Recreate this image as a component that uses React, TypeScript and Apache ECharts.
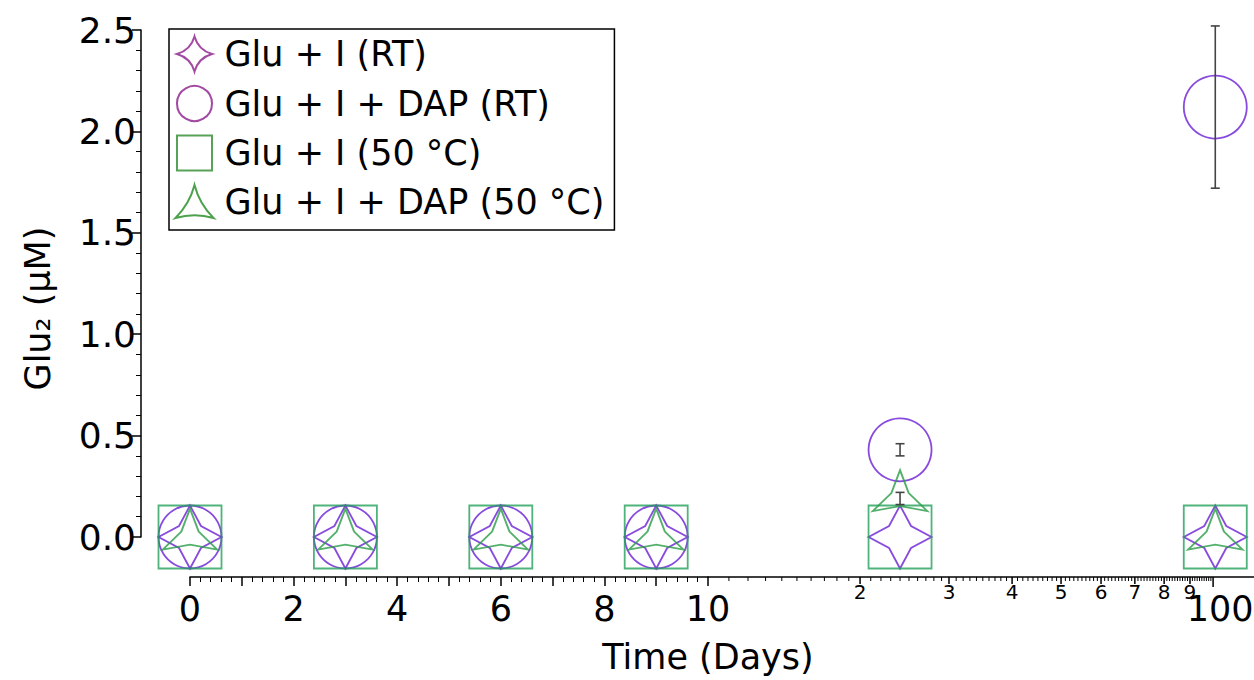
import { useEffect, useRef } from "react";
import * as echarts from "echarts";

const FONT = "DejaVu Sans";

// ---- data ----
const days = [0, 3, 6, 9, 24, 101];
const gluRT = [0, 0, 0, 0, 0, 0];
const gluDapRT = [0, 0, 0, 0, 0.43, 2.12];
const gluDapRTErr = [0, 0, 0, 0, 0.03, 0.4];
const glu50 = [0, 0, 0, 0, 0, 0];
const gluDap50 = [0, 0, 0, 0, 0.19, 0];
const gluDap50Err = [0, 0, 0, 0, 0.03, 0];
const seriesNames = [
  "Glu + I (RT)",
  "Glu + I + DAP (RT)",
  "Glu + I (50 °C)",
  "Glu + I + DAP (50 °C)",
];
// axis break: linear 0..10, log 10..
const BREAK = 10;
const LOG_MAX = 120.5;
const logLabelTicks = [20, 30, 40, 50, 60, 70, 80, 90];
const logLabelTexts = ["2", "3", "4", "5", "6", "7", "8", "9"];
const logEndTick = 100;
const logEndText = "100";

const AX_OFF = 40;
const dataColors = ["#6a1ed6", "#6a1ed6", "#24a05a", "#2a9c48"];
const legendColors = ["#8b1c8b", "#8b1c8b", "#2e8b2e", "#1f8a1f"];

const star4 = "path://M0,-31.5 L11,-11 L31.5,0 L11,11 L0,31.5 L-11,11 L-31.5,0 L-11,-11 Z";
const star3 = "path://M0,-31.5 L8.66,-5 L27.28,15.75 L0,10 L-27.28,15.75 L-8.66,-5 Z";
const square = "path://M-1,-1 L1,-1 L1,1 L-1,1 Z";
const star4Legend = "path://M0,-31.5 Q7,-7 31.5,0 Q7,7 0,31.5 Q-7,7 -31.5,0 Q-7,-7 0,-31.5 Z";
const star3Legend = "path://M0,-31.5 Q7.14,-4.125 27.28,15.75 Q0,8.25 -27.28,15.75 Q-7.14,-4.125 0,-31.5 Z";

const symbols = [
  { symbol: star4, size: [63, 63], offset: [0, 0] },
  { symbol: "circle", size: [63, 63], offset: [0, 0] },
  { symbol: square, size: [63, 63], offset: [0, 0] },
  { symbol: star3, size: [54.56, 47.25], offset: [0, -7.875] },
];
const legendIcons = [star4Legend, "circle", square, star3Legend];
const valueSets = [gluRT, gluDapRT, glu50, gluDap50];

export default function App() {
  const ref = useRef<HTMLDivElement>(null);
  useEffect(() => {
    if (!ref.current) return;
    const chart = echarts.init(ref.current, undefined, { renderer: "svg" });

    const inGrid = (g: number) => (d: number) => (g === 0 ? d <= BREAK : d > BREAK);

    const scatter: any[] = [];
    [0, 1].forEach((g) => {
      valueSets.forEach((vals, si) => {
        const data = days
          .map((d, i) => [d, vals[i]])
          .filter((p) => inGrid(g)(p[0]));
        scatter.push({
          type: "scatter",
          name: seriesNames[si],
          xAxisIndex: g,
          yAxisIndex: g,
          data,
          symbol: symbols[si].symbol,
          symbolSize: symbols[si].size,
          symbolOffset: symbols[si].offset,
          symbolKeepAspect: true,
          itemStyle: { color: "rgba(0,0,0,0)", borderColor: dataColors[si], borderWidth: 1.8 },
          clip: false,
          silent: true,
          z: 2 + si,
        });
      });
    });

    const errData: number[][] = [];
    days.forEach((d, i) => {
      if (gluDapRTErr[i] > 0) errData.push([d, gluDapRT[i], gluDapRTErr[i]]);
      if (gluDap50Err[i] > 0) errData.push([d, gluDap50[i], gluDap50Err[i]]);
    });

    const errSeries = [0, 1].map((g) => ({
      type: "custom",
      xAxisIndex: g,
      yAxisIndex: g,
      silent: true,
      clip: false,
      z: 10,
      data: errData.filter((p) => inGrid(g)(p[0])),
      renderItem: (_p: any, api: any) => {
        const x = api.value(0), y = api.value(1), e = api.value(2);
        const t = api.coord([x, y + e]);
        const b = api.coord([x, y - e]);
        const hw = 4.5;
        const st = { stroke: "#444", lineWidth: 1.6 };
        return {
          type: "group",
          children: [
            { type: "line", shape: { x1: t[0], y1: t[1], x2: b[0], y2: b[1] }, style: st },
            { type: "line", shape: { x1: t[0] - hw, y1: t[1], x2: t[0] + hw, y2: t[1] }, style: st },
            { type: "line", shape: { x1: b[0] - hw, y1: b[1], x2: b[0] + hw, y2: b[1] }, style: st },
          ],
        };
      },
    }));

    // log axis ticks
    const logTicks: number[][] = [];
    for (let v = BREAK + 1; v <= logEndTick; v++) logTicks.push([v, 0]);
    const tickSeries = {
      type: "custom",
      xAxisIndex: 1,
      yAxisIndex: 1,
      silent: true,
      clip: false,
      z: 1,
      data: logTicks,
      renderItem: (_p: any, api: any) => {
        const v = api.value(0);
        const c = api.coord([v, 0]);
        const y0 = c[1] + AX_OFF;
        const li = logLabelTicks.indexOf(v);
        const isEnd = v === logEndTick;
        const len = isEnd ? 10 : li >= 0 ? 7 : 4;
        const children: any[] = [
          {
            type: "line",
            shape: { x1: c[0], y1: y0, x2: c[0], y2: y0 + len },
            style: { stroke: "#000", lineWidth: isEnd || li >= 0 ? 1.5 : 1 },
          },
        ];
        if (li >= 0) {
          children.push({
            type: "text",
            x: c[0],
            y: y0 + 5,
            style: { text: logLabelTexts[li], fontSize: 20, fontFamily: FONT, fill: "#000", align: "center", verticalAlign: "top" },
          });
        }
        if (isEnd) {
          children.push({
            type: "text",
            x: c[0] + 7,
            y: y0 + 14,
            style: { text: logEndText, fontSize: 35, fontFamily: FONT, fill: "#000", align: "center", verticalAlign: "top" },
          });
        }
        return { type: "group", children };
      },
    };

    const option: any = {
      animation: false,
      backgroundColor: "#fff",
      textStyle: { fontFamily: FONT },
      grid: [
        { left: 190, top: 30, width: 518, height: 507 },
        { left: 708, top: 30, width: 546, height: 507 },
      ],
      xAxis: [
        {
          type: "value",
          gridIndex: 0,
          min: 0,
          max: BREAK,
          interval: 1,
          offset: AX_OFF,
          position: "bottom",
          axisLine: { onZero: false, lineStyle: { color: "#000", width: 1.5 } },
          axisTick: { length: 9, lineStyle: { color: "#000", width: 1.5 } },
          minorTick: { show: true, splitNumber: 5, length: 5, lineStyle: { color: "#000", width: 1 } },
          axisLabel: {
            formatter: (v: number) => (v % 2 === 0 ? String(v) : ""),
            fontSize: 35,
            fontFamily: FONT,
            color: "#000",
            margin: 14,
            showMaxLabel: true,
            hideOverlap: false,
          },
          splitLine: { show: false },
        },
        {
          type: "log",
          logBase: 10,
          gridIndex: 1,
          min: BREAK,
          max: LOG_MAX,
          offset: AX_OFF,
          position: "bottom",
          axisLine: { onZero: false, lineStyle: { color: "#000", width: 1.5 } },
          axisTick: { show: false },
          minorTick: { show: false },
          axisLabel: { show: false },
          splitLine: { show: false },
          name: "Time (Days)",
          nameLocation: "start",
          nameGap: 0,
          nameTextStyle: {
            fontSize: 35,
            fontFamily: FONT,
            color: "#000",
            align: "center",
            verticalAlign: "top",
            padding: [62, 0, 0, 0],
          },
        },
      ],
      yAxis: [
        {
          type: "value",
          gridIndex: 0,
          min: 0,
          max: 2.5,
          interval: 0.5,
          offset: 49,
          position: "left",
          axisLine: { show: true, onZero: false, lineStyle: { color: "#000", width: 1.5 } },
          axisTick: { show: true, length: 9, lineStyle: { color: "#000", width: 1.5 } },
          minorTick: { show: true, splitNumber: 5, length: 5, lineStyle: { color: "#000", width: 1 } },
          axisLabel: {
            formatter: (v: number) => v.toFixed(1),
            fontSize: 36,
            fontFamily: FONT,
            color: "#000",
            margin: 5,
          },
          splitLine: { show: false },
          name: "Glu₂ (μM)",
          nameLocation: "middle",
          nameGap: 86,
          nameTextStyle: { fontSize: 35, fontFamily: FONT, color: "#000", padding: [0, 50, 0, 0] },
        },
        { type: "value", gridIndex: 1, min: 0, max: 2.5, show: false },
      ],
      legend: {
        orient: "vertical",
        left: 169,
        top: 29,
        padding: [6.5, 10, 11, 5.5],
        itemWidth: 38,
        itemHeight: 35,
        itemGap: 12.5,
        borderColor: "#000",
        borderWidth: 1.5,
        selectedMode: false,
        textStyle: { fontFamily: FONT, fontSize: 35, color: "#000", lineHeight: 35, padding: [0, 0, 0, 6] },
        data: seriesNames.map((n, i) => ({
          name: n,
          icon: legendIcons[i],
          itemStyle: { color: "rgba(0,0,0,0)", borderColor: legendColors[i], borderWidth: 2 },
        })),
      },
      series: [...scatter, ...errSeries, tickSeries],
    };
    chart.setOption(option);
    return () => chart.dispose();
  }, []);
  return <div ref={ref} style={{ position: "fixed", left: 0, top: 0, width: 1254, height: 680 }} />;
}
